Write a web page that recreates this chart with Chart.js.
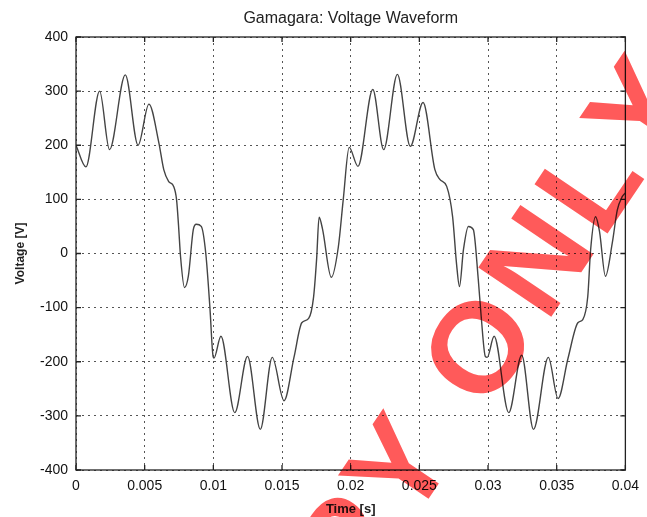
<!DOCTYPE html>
<html>
<head>
<meta charset="utf-8">
<title>Gamagara: Voltage Waveform</title>
<script src="https://cdn.jsdelivr.net/npm/chart.js@4.4.1/dist/chart.umd.min.js"></script>
<style>
  html, body { margin: 0; padding: 0; background: #fff; }
  .wrap { width: 647px; height: 517px; position: relative; }
</style>
</head>
<body>
<div class="wrap"><canvas id="myChart" width="647" height="517"></canvas></div>
<script>
'use strict';

// Data (time in ms, voltage in V)
var timeMs = [
  0, 0.72, 1.72, 2.44, 3.59, 4.52, 5.31, 6.03, 6.39, 6.75, 7.11, 7.32, 7.47, 7.61, 7.90,
  8.18, 8.54, 8.76, 9.12, 9.45, 9.75, 9.98, 10.05, 10.55, 11.56, 12.49, 13.42, 14.29, 15.15,
  15.87, 16.44, 16.94, 17.30, 17.52, 17.70, 17.95, 18.59, 19.10, 19.46, 19.89,
  20.53, 21.61, 22.40, 23.40, 24.34, 25.27, 26.13, 26.49, 26.99, 27.42, 27.71, 27.92,
  28.21, 28.57, 28.93, 29.29, 29.50, 29.80, 29.94, 30.44, 31.51, 32.45, 33.31, 34.39,
  35.10, 35.82, 36.54, 36.90, 37.26, 37.47, 37.83, 38.12, 38.55, 39.05, 39.41, 39.77, 40
];
var voltage = [
  200, 160, 300, 192, 330, 200, 276, 205, 155, 133, 124, 100, 50, -5, -63,
  -42, 44, 54, 50, 0, -100, -190, -193, -153, -294, -190, -325, -192, -272,
  -192, -128, -120, -80, -10, 67, 45, -44, 12, 100, 196,
  161, 303, 192, 331, 198, 279, 155, 137, 124, 68, -20, -61,
  7, 50, 44, -48, -116, -190, -192, -153, -294, -188, -325, -192,
  -268, -194, -128, -122, -80, 7, 68, 40, -42, 20, 80, 105, 112
];

// Axis ticks
var xTicks = [0, 0.005, 0.01, 0.015, 0.02, 0.025, 0.03, 0.035, 0.04];
var yTicks = [-400, -300, -200, -100, 0, 100, 200, 300, 400];

var titleText = 'Gamagara: Voltage Waveform';
var watermarkText = 'COPY ONLY';

var points = timeMs.map(function(t, i) {
  return { x: t / 1000, y: voltage[i] };
});

var fontFamily = '"Liberation Sans", Arial, sans-serif';

// Frame with inward ticks (matlab style), title and watermark
var decorPlugin = {
  id: 'decor',
  afterDatasetsDraw: function(chart) {
    var ctx = chart.ctx;
    var a = chart.chartArea;
    var xs = chart.scales.x;
    var ys = chart.scales.y;
    ctx.save();
    ctx.strokeStyle = '#222';
    ctx.lineWidth = 1.3;
    ctx.strokeRect(a.left, a.top, a.right - a.left, a.bottom - a.top);
    ctx.beginPath();
    xTicks.forEach(function(v) {
      var px = xs.getPixelForValue(v);
      ctx.moveTo(px, a.bottom); ctx.lineTo(px, a.bottom - 5);
      ctx.moveTo(px, a.top); ctx.lineTo(px, a.top + 5);
    });
    yTicks.forEach(function(v) {
      var py = ys.getPixelForValue(v);
      ctx.moveTo(a.left, py); ctx.lineTo(a.left + 5, py);
      ctx.moveTo(a.right, py); ctx.lineTo(a.right - 5, py);
    });
    ctx.stroke();
    ctx.restore();
  },
  afterDraw: function(chart) {
    var ctx = chart.ctx;
    var a = chart.chartArea;
    ctx.save();
    ctx.fillStyle = '#222';
    ctx.font = '16px ' + fontFamily;
    ctx.textAlign = 'center';
    ctx.textBaseline = 'middle';
    ctx.fillText(titleText, (a.left + a.right) / 2, 19);
    ctx.restore();

    // red stamp over the scan, multiplied so the ink shows through
    ctx.save();
    ctx.globalCompositeOperation = 'multiply';
    ctx.font = 'bold 128px ' + fontFamily;
    ctx.fillStyle = '#ff5a5a';
    ctx.textAlign = 'center';
    ctx.textBaseline = 'middle';
    var letters = watermarkText.split('');
    var gap = 8;
    var pos = [];
    var run = 0;
    letters.forEach(function(ch) {
      var w = ctx.measureText(ch).width;
      pos.push(run + w / 2);
      run += w + gap;
    });
    ctx.translate(485, 352);
    ctx.rotate(-56 * Math.PI / 180);
    letters.forEach(function(ch, i) {
      ctx.fillText(ch, pos[i] - pos[5], 0);
    });
    ctx.restore();
  }
};

var ctx = document.getElementById('myChart').getContext('2d');

var chart = new Chart(ctx, {
  type: 'line',
  data: {
    datasets: [
      {
        label: 'Voltage',
        data: points,
        borderColor: '#444',
        borderWidth: 1.4,
        pointRadius: 0,
        fill: false,
        cubicInterpolationMode: 'monotone'
      }
    ]
  },
  options: {
    responsive: false,
    animation: false,
    layout: { padding: { top: 37, right: 14, left: 0, bottom: 0 } },
    plugins: {
      legend: { display: false },
      tooltip: { enabled: false },
      title: { display: false }
    },
    scales: {
      x: {
        type: 'linear',
        min: 0,
        max: 0.04,
        afterBuildTicks: function(scale) {
          scale.ticks = xTicks.map(function(v) { return { value: v }; });
        },
        afterFit: function(scale) { scale.height = 47; },
        grid: {
          color: '#555',
          lineWidth: 1,
          drawTicks: false
        },
        border: { display: false, dash: [2, 4] },
        ticks: {
          padding: 8,
          color: '#111',
          font: { family: fontFamily, size: 14 },
          callback: function(v) { return String(+v.toFixed(3)); }
        },
        title: {
          display: true,
          text: 'Time [s]',
          color: '#222',
          font: { family: fontFamily, size: 13, weight: 'bold' },
          padding: { top: 1, bottom: 0 }
        }
      },
      y: {
        min: -400,
        max: 400,
        afterBuildTicks: function(scale) {
          scale.ticks = yTicks.map(function(v) { return { value: v }; });
        },
        afterFit: function(scale) { scale.width = 76; },
        grid: {
          color: '#555',
          lineWidth: 1,
          drawTicks: false
        },
        border: { display: false, dash: [2, 4] },
        ticks: {
          padding: 8,
          color: '#111',
          font: { family: fontFamily, size: 14 }
        },
        title: {
          display: true,
          text: 'Voltage [V]',
          color: '#222',
          font: { family: fontFamily, size: 12, weight: 'bold' },
          padding: { top: 13, bottom: 0 }
        }
      }
    }
  },
  plugins: [decorPlugin]
});
</script>
</body>
</html>
